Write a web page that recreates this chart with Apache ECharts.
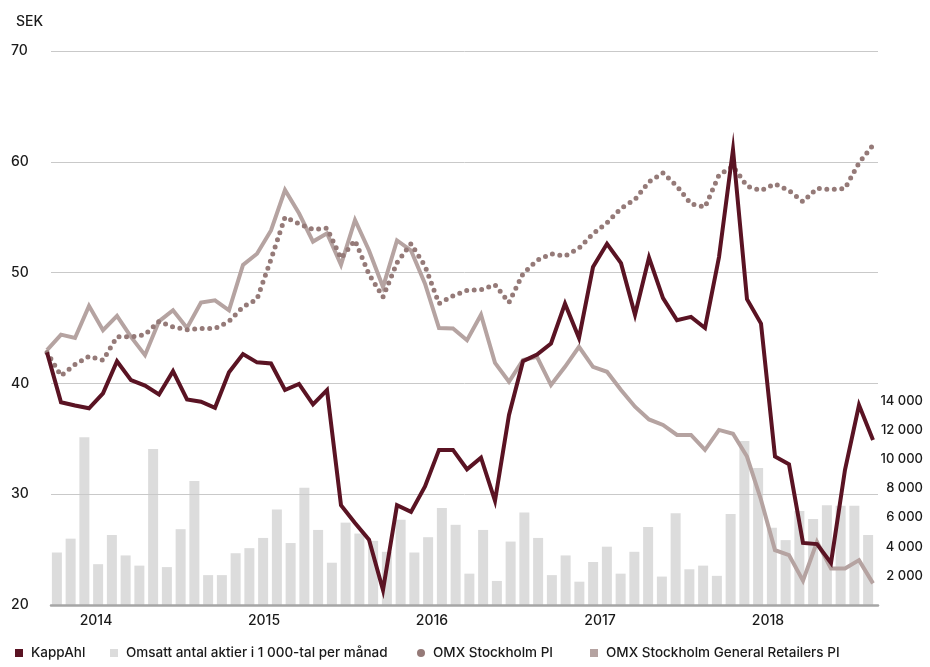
<!DOCTYPE html>
<html>
<head>
<meta charset="utf-8">
<script src="https://cdn.jsdelivr.net/npm/echarts@6/dist/echarts.min.js"></script>
<style>
    html, body { margin: 0; padding: 0; background: #fff; }
    #chart { width: 930px; height: 667px; }
</style>
</head>
<body>
<div id="chart"></div>
<script>
// månader, okt 2013 - sep 2018
var months = [
    '2013-10', '2013-11', '2013-12',
    '2014-01', '2014-02', '2014-03', '2014-04', '2014-05', '2014-06', '2014-07', '2014-08', '2014-09', '2014-10', '2014-11', '2014-12',
    '2015-01', '2015-02', '2015-03', '2015-04', '2015-05', '2015-06', '2015-07', '2015-08', '2015-09', '2015-10', '2015-11', '2015-12',
    '2016-01', '2016-02', '2016-03', '2016-04', '2016-05', '2016-06', '2016-07', '2016-08', '2016-09', '2016-10', '2016-11', '2016-12',
    '2017-01', '2017-02', '2017-03', '2017-04', '2017-05', '2017-06', '2017-07', '2017-08', '2017-09', '2017-10', '2017-11', '2017-12',
    '2018-01', '2018-02', '2018-03', '2018-04', '2018-05', '2018-06', '2018-07', '2018-08', '2018-09'
];

// SEK
var kappahl = [
    42.8, 38.3, 38.0, 37.75, 39.1, 42.0, 40.3, 39.8, 39.0, 41.1,
    38.55, 38.35, 37.8, 41.0, 42.65, 41.9, 41.8, 39.4, 39.95, 38.1,
    39.4, 29.0, 27.4, 25.9, 21.35, 29.0, 28.4, 30.7, 34.0, 34.0,
    32.25, 33.3, 29.4, 37.15, 42.0, 42.6, 43.6, 47.2, 44.1, 50.5,
    52.6, 50.85, 46.2, 51.35, 47.7, 45.7, 46.0, 45.0, 51.4, 61.1,
    47.6, 45.4, 33.4, 32.7, 25.6, 25.5, 23.8, 32.2, 38.05, 34.9
];

var omxPI = [
    42.8, 40.7, 41.7, 42.45, 42.1, 44.2, 44.2, 44.4, 45.6, 45.1,
    44.85, 44.95, 44.95, 45.6, 46.9, 47.6, 51.2, 55.0, 54.4, 53.9,
    54.0, 51.3, 52.9, 49.85, 47.8, 50.9, 52.6, 50.6, 47.2, 47.9,
    48.4, 48.45, 48.9, 47.3, 49.9, 51.1, 51.7, 51.5, 52.2, 53.5,
    54.5, 55.8, 56.6, 58.2, 59.0, 57.8, 56.2, 55.9, 58.8, 59.6,
    57.8, 57.4, 58.0, 57.4, 56.4, 57.6, 57.5, 57.6, 59.9, 61.5
];

var retailers = [
    43.0, 44.4, 44.1, 47.0, 44.8, 46.1, 44.2, 42.55, 45.6, 46.6,
    45.0, 47.3, 47.5, 46.6, 50.7, 51.7, 53.8, 57.45, 55.35, 52.8,
    53.55, 50.7, 54.75, 52.0, 48.7, 52.9, 52.0, 49.0, 45.0, 44.95,
    43.9, 46.2, 41.85, 40.15, 42.1, 42.4, 39.85, 41.5, 43.3, 41.5,
    41.05, 39.4, 37.9, 36.75, 36.25, 35.35, 35.35, 34.0, 35.8, 35.45,
    33.4, 29.5, 24.95, 24.5, 22.2, 25.7, 23.3, 23.3, 24.05, 21.95
];

// omsatt antal aktier, 1 000-tal per månad
var volume = [
    3600, 4550, 11500, 2800, 4800, 3400, 2700, 10700, 2600, 5200,
    8500, 2050, 2050, 3550, 3900, 4600, 6550, 4250, 8050, 5150,
    2900, 5650, 4900, 4400, 3650, 5850, 3600, 4650, 6650, 5500,
    2150, 5150, 1650, 4350, 6350, 4600, 2050, 3400, 1600, 2950,
    4000, 2150, 3650, 5350, 1950, 6300, 2450, 2700, 2000, 6250,
    11250, 9400, 5300, 4450, 6450, 5900, 6850, 6800, 6800, 4800
];

var names = [
    'KappAhl',
    'Omsatt antal aktier i 1 000-tal per månad',
    'OMX Stockholm PI',
    'OMX Stockholm General Retailers PI'
];

var font = 'Inter, Roboto, "Liberation Sans", sans-serif';
var top_ = 51, bottom_ = 62;

var myChart = echarts.init(document.getElementById('chart'), null, { renderer: 'canvas' });

//图例
function legendItem(name, icon, left) {
    return {
        data: [{ name: name, icon: icon }],
        left: left,
        top: 646,
        padding: 0,
        itemWidth: 8,
        itemHeight: 8,
        selectedMode: false,
        textStyle: { fontFamily: font, fontSize: 13.5, fontWeight: 500, color: '#1a1a1a', padding: [0, 0, 0, 3] }
    };
}

var option = {
    animation: false,
    title: {
        text: 'SEK',
        left: 11,
        top: 10,
        textStyle: { fontFamily: font, fontSize: 14, fontWeight: 500, color: '#1a1a1a' }
    },
    legend: [
        legendItem(names[0], 'rect', 15),
        legendItem(names[1], 'rect', 110),
        legendItem(names[2], 'circle', 417),
        legendItem(names[3], 'rect', 590)
    ],
    grid: [
        { left: 51, right: 52, top: top_, bottom: bottom_ },
        { left: 47, right: 57, top: top_, bottom: bottom_ },
        { left: 50, right: 55, top: top_, bottom: bottom_ }
    ],
    xAxis: [
        {
            gridIndex: 0, type: 'category', data: months, boundaryGap: false, z: 3,
            axisLine: { lineStyle: { color: '#a6a6a6', width: 2.5 } },
            axisTick: { show: false }, axisLabel: { show: false }
        },
        {
            gridIndex: 1, type: 'category', data: months, boundaryGap: false,
            axisLine: { show: false }, axisTick: { show: false },
            axisLabel: {
                interval: function (i, v) { return v.slice(5) === '01'; },
                formatter: function (v) { return v.slice(0, 4); },
                padding: [0, 0, 0, 14],
                margin: 9,
                fontFamily: font, fontSize: 14, fontWeight: 500, color: '#1a1a1a'
            }
        },
        { gridIndex: 2, type: 'category', data: months, boundaryGap: true, show: false }
    ],
    yAxis: [
        {
            gridIndex: 0, type: 'value', min: 20, max: 70, interval: 10, z: 2,
            axisLine: { show: false }, axisTick: { show: false },
            splitLine: { lineStyle: { color: '#c9c9c9', width: 1 } },
            axisLabel: { align: 'left', margin: 40, fontFamily: font, fontSize: 14, fontWeight: 500, color: '#1a1a1a' }
        },
        { gridIndex: 1, type: 'value', min: 20, max: 70, show: false },
        {
            gridIndex: 2, type: 'value', position: 'right', min: 0, max: 38000, interval: 2000,
            axisLine: { show: false }, axisTick: { show: false }, splitLine: { show: false },
            axisLabel: {
                align: 'right', margin: 48,
                formatter: function (v) { return (v >= 2000 && v <= 14000) ? (v / 1000) + ' 000' : ''; },
                fontFamily: font, fontSize: 13, fontWeight: 500, color: '#1a1a1a'
            }
        }
    ],
    series: [
        {
            name: names[1], type: 'bar', xAxisIndex: 2, yAxisIndex: 2, data: volume,
            barWidth: 10, z: 1, color: '#dcdcdc', itemStyle: { color: '#dcdcdc' }
        },
        {
            name: names[3], type: 'line', xAxisIndex: 1, yAxisIndex: 1, data: retailers,
            symbol: 'none', z: 4, color: '#b5a3a1',
            lineStyle: { color: '#b5a3a1', width: 4, join: 'miter' }
        },
        {
            name: names[2], type: 'line', xAxisIndex: 1, yAxisIndex: 1, data: omxPI,
            symbol: 'none', z: 5, color: '#957a78',
            lineStyle: { color: '#957a78', width: 5, type: [0, 7.5], cap: 'round' }
        },
        {
            name: names[0], type: 'line', xAxisIndex: 1, yAxisIndex: 1, data: kappahl,
            symbol: 'none', z: 6, color: '#5a1323',
            lineStyle: { color: '#5a1323', width: 4, join: 'miter' }
        }
    ]
};

myChart.setOption(option);
</script>
</body>
</html>
